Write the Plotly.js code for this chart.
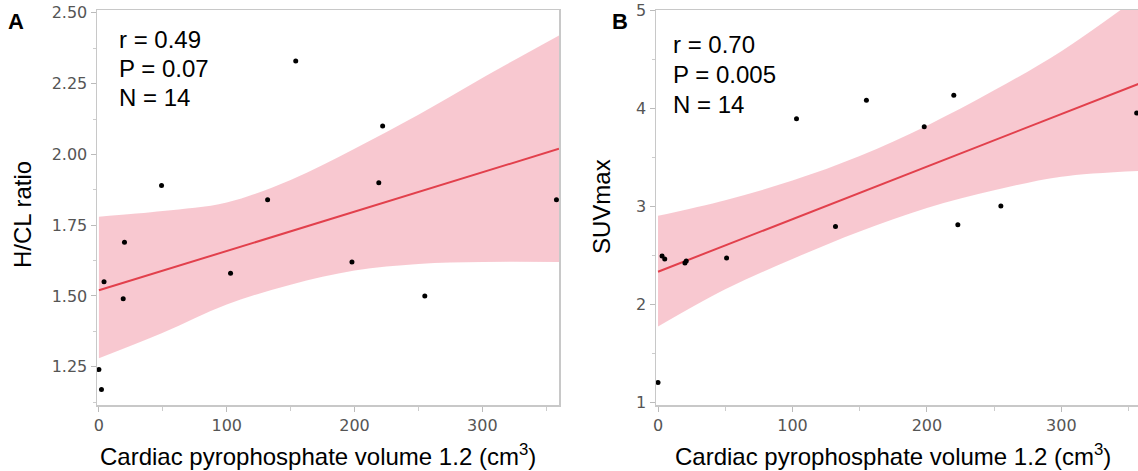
<!DOCTYPE html>
<html><head><meta charset="utf-8">
<script src="https://cdn.plot.ly/plotly-3.0.1.min.js"></script>
<style>body{margin:0;background:#fff}#c{width:1138px;height:471px}</style>
</head><body><div id="c"></div>
<script>
// Panel A data
const volA = [0, 2, 4, 19, 20, 49, 103, 132, 154, 198, 219, 222, 255, 358];
const hclA = [1.24, 1.17, 1.55, 1.49, 1.69, 1.89, 1.58, 1.84, 2.33, 1.62, 1.90, 2.10, 1.50, 1.84];
const fitXA = [0, 360];
const fitYA = [1.52, 2.02];
const bandXA = [0, 50, 100, 150, 200, 250, 300, 360];
const bandUpA = [1.78, 1.80, 1.83, 1.91, 2.02, 2.14, 2.27, 2.42];
const bandLoA = [1.28, 1.37, 1.47, 1.54, 1.59, 1.613, 1.62, 1.62];
// Panel B data
const volB = [0, 3, 5, 20, 21, 51, 103, 132, 155, 198, 220, 223, 255, 356];
const suvB = [1.20, 2.49, 2.46, 2.42, 2.44, 2.47, 3.89, 2.79, 4.08, 3.81, 4.13, 2.81, 3.00, 3.95];
const fitXB = [0, 360];
const fitYB = [2.33, 4.26];
const bandXB = [0, 50, 100, 150, 200, 250, 300, 360];
const bandUpB = [2.90, 3.06, 3.26, 3.51, 3.82, 4.18, 4.58, 5.16];
const bandLoB = [1.77, 2.15, 2.46, 2.74, 2.98, 3.16, 3.30, 3.36];
const xTitle = 'Cardiac pyrophosphate volume 1.2 (cm<sup>3</sup>)';

const pink = 'rgba(247,190,200,0.85)';
const red = '#e2404c';
function band(xs, up, lo, xa, ya) {
  return [
    {x: xs, y: lo, xaxis: xa, yaxis: ya, mode: 'lines', line: {width: 0, shape: 'spline'}, hoverinfo: 'skip', showlegend: false},
    {x: xs, y: up, xaxis: xa, yaxis: ya, mode: 'lines', line: {width: 0, shape: 'spline'}, fill: 'tonexty', fillcolor: pink, hoverinfo: 'skip', showlegend: false}
  ];
}
const data = [
  ...band(bandXA, bandUpA, bandLoA, 'x', 'y'),
  {x: fitXA, y: fitYA, xaxis: 'x', yaxis: 'y', mode: 'lines', line: {color: red, width: 2}, showlegend: false},
  {x: volA, y: hclA, xaxis: 'x', yaxis: 'y', mode: 'markers', marker: {color: '#000', size: 5}, showlegend: false},
  ...band(bandXB, bandUpB, bandLoB, 'x2', 'y2'),
  {x: fitXB, y: fitYB, xaxis: 'x2', yaxis: 'y2', mode: 'lines', line: {color: red, width: 2}, showlegend: false},
  {x: volB, y: suvB, xaxis: 'x2', yaxis: 'y2', mode: 'markers', marker: {color: '#000', size: 5}, showlegend: false}
];
const tickFont = {family: 'DejaVu Sans, Verdana, sans-serif', size: 16, color: '#555'};
const axBase = {
  showgrid: false, zeroline: false, showline: true, linecolor: '#c8c8c8', linewidth: 1.5, mirror: true,
  ticks: 'outside', ticklen: 5, tickcolor: '#bbb', tickfont: tickFont
};
const ydom = [1 - 405/471, 1 - 10/471];
const lbl = {family: 'Liberation Sans, Arial, sans-serif', size: 24, color: '#000'};
function txt(x, y, t, extra) {
  return Object.assign({xref: 'paper', yref: 'paper', x: x/1138, y: 1 - y/471, text: t, showarrow: false, xanchor: 'left', yanchor: 'middle', font: lbl}, extra || {});
}
const layout = {
  width: 1138, height: 471, margin: {l: 0, r: 0, t: 0, b: 0},
  paper_bgcolor: '#fff', plot_bgcolor: '#fff', showlegend: false,
  xaxis: Object.assign({}, axBase, {domain: [97/1138, 559/1138], range: [-1.5, 360], tickvals: [0, 100, 200, 300], minor: {ticks: 'outside', ticklen: 4, tickcolor: '#ccc', dtick: 50, tick0: 0}}),
  yaxis: Object.assign({}, axBase, {domain: ydom, range: [1.115, 2.51], tickvals: [1.25, 1.5, 1.75, 2.0, 2.25, 2.5], ticktext: ['1.25', '1.50', '1.75', '2.00', '2.25', '2.50'], minor: {ticks: 'outside', ticklen: 3, tickcolor: '#ccc', dtick: 0.125, tick0: 0}}),
  xaxis2: Object.assign({}, axBase, {domain: [656/1138, 1], range: [-1.5, 357], tickvals: [0, 100, 200, 300], anchor: 'y2', minor: {ticks: 'outside', ticklen: 4, tickcolor: '#ccc', dtick: 50, tick0: 0}}),
  yaxis2: Object.assign({}, axBase, {domain: ydom, range: [0.97, 5.0], tickvals: [1, 2, 3, 4, 5], anchor: 'x2', minor: {ticks: 'outside', ticklen: 3, tickcolor: '#ccc', dtick: 0.5, tick0: 0}}),
  annotations: [
    txt(6, 22, '<b>A</b>', {font: {family: 'Liberation Sans, Arial, sans-serif', size: 22, color: '#000'}}),
    txt(610, 22, '<b>B</b>', {font: {family: 'Liberation Sans, Arial, sans-serif', size: 22, color: '#000'}}),
    txt(117, 40, 'r = 0.49'),
    txt(117, 69, 'P = 0.07'),
    txt(117, 98, 'N = 14'),
    txt(671, 45, 'r = 0.70'),
    txt(671, 75, 'P = 0.005'),
    txt(671, 105, 'N = 14'),
    txt(318, 455, xTitle, {xanchor: 'center'}),
    txt(893, 455, xTitle, {xanchor: 'center'}),
    txt(22, 215, 'H/CL ratio', {xanchor: 'center', textangle: -90}),
    txt(601, 207, 'SUVmax', {xanchor: 'center', textangle: -90})
  ]
};
Plotly.newPlot('c', data, layout, {displayModeBar: false, staticPlot: true});
</script></body></html>
